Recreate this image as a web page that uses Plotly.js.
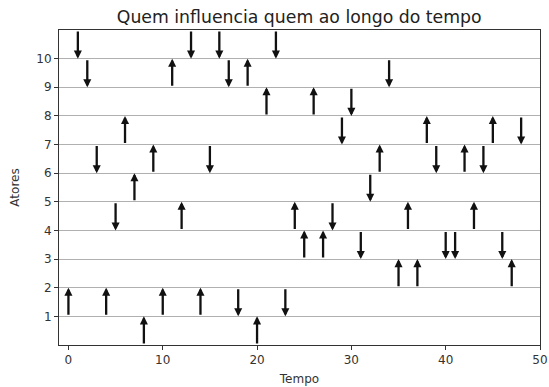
<!DOCTYPE html>
<html>
<head>
<meta charset="utf-8">
<script src="https://cdn.plot.ly/plotly-3.0.1.min.js"></script>
<style>html,body{margin:0;padding:0;background:#fff}</style>
</head>
<body>
<div id="chart" style="width:549px;height:387px"></div>
<script>
// Tempo (time step) of each influence
var tempo = [0,1,2,3,4,5,6,7,8,9,10,11,12,13,14,15,16,17,18,19,20,21,22,23,24,25,26,27,28,29,30,31,32,33,34,35,36,37,38,39,40,41,42,43,44,45,46,47,48];
// Actor who influences (arrow start)
var origem = [1,11,10,7,1,5,7,5,0,6,1,9,4,11,1,7,11,10,2,9,0,8,11,2,4,3,8,3,5,8,9,4,6,6,10,2,4,2,7,7,4,4,6,4,7,7,4,2,8];
// Actor who is influenced (arrow end)
var destino = [2,10,9,6,2,4,8,6,1,7,2,10,5,10,2,6,10,9,1,10,1,9,10,1,5,4,9,4,4,7,8,3,5,7,9,3,5,3,8,6,3,3,7,5,6,8,3,3,7];

var annotations = tempo.map(function(t, i) {
  return {
    x: t, y: destino[i], ax: t, ay: origem[i],
    xref: 'x', yref: 'y', axref: 'x', ayref: 'y',
    showarrow: true, arrowhead: 2, arrowsize: 0.7, arrowwidth: 2.3,
    arrowcolor: '#111', text: ''
  };
});

var trace = {x: tempo, y: destino, mode: 'markers', marker: {opacity: 0}, hoverinfo: 'skip', showlegend: false, cliponaxis: false};

var axisCommon = {
  showline: true, mirror: true, linecolor: '#333', linewidth: 1,
  ticks: 'outside', ticklen: 4, tickcolor: '#333',
  tickfont: {family: 'DejaVu Sans', size: 12, color: '#333'},
  zeroline: false
};

var layout = {
  width: 549, height: 387,
  margin: {l: 59, r: 9, t: 30, b: 42},
  paper_bgcolor: '#fff', plot_bgcolor: '#fff',
  font: {family: 'DejaVu Sans', color: '#333'},
  title: {text: 'Quem influencia quem ao longo do tempo', font: {family: 'DejaVu Sans', size: 17.3, color: '#222'}, x: 0.545, xanchor: 'center', y: 0.955, yanchor: 'middle'},
  xaxis: Object.assign({}, axisCommon, {range: [-1, 50], tickvals: [0,10,20,30,40,50], showgrid: false,
    title: {text: 'Tempo', font: {family: 'DejaVu Sans', size: 12, color: '#333'}, standoff: 8}}),
  yaxis: Object.assign({}, axisCommon, {range: [0, 11], tickvals: [1,2,3,4,5,6,7,8,9,10], showgrid: true, gridcolor: '#b0b0b0', gridwidth: 1,
    title: {text: 'Atores', font: {family: 'DejaVu Sans', size: 12, color: '#333'}, standoff: 14}}),
  annotations: annotations
};

Plotly.newPlot('chart', [trace], layout, {displayModeBar: false, staticPlot: true});
</script>
</body>
</html>
